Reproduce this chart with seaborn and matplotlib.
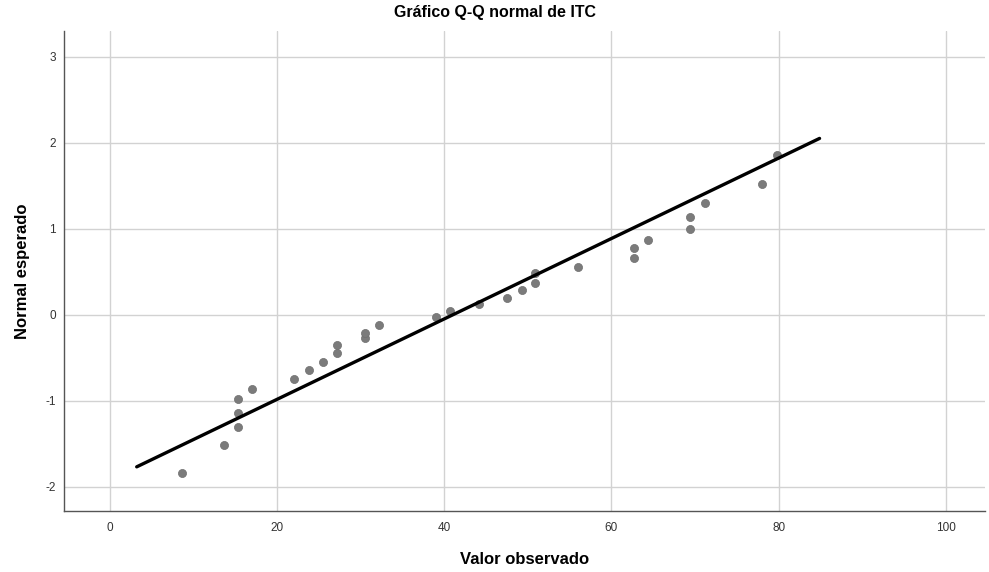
import numpy as np
import pandas as pd
import matplotlib
matplotlib.use("Agg")
import matplotlib.pyplot as plt
import seaborn as sns
from matplotlib import font_manager

# ==============================
# Data
# ==============================

observed = [8.6, 13.6, 15.3, 15.3, 15.3, 17.0, 22.0, 23.8, 25.5, 27.2,
            27.2, 30.5, 30.5, 32.2, 39.0, 40.7, 44.1, 47.5, 49.3, 50.8,
            50.8, 56.0, 62.7, 62.7, 64.4, 69.4, 69.4, 71.2, 78.0, 79.8]
expected = [-1.84, -1.51, -1.30, -1.14, -0.98, -0.86, -0.74, -0.64, -0.55, -0.44,
            -0.35, -0.27, -0.21, -0.12, -0.03, 0.05, 0.13, 0.20, 0.29, 0.37,
            0.49, 0.56, 0.66, 0.78, 0.87, 1.00, 1.14, 1.30, 1.52, 1.86]

# reference line (normal with this mean / sd)
line_mean = 41.0
line_sd = 21.4
line_x = [3.2, 84.9]

x_ticks = [0, 20, 40, 60, 80, 100]
y_ticks = [-2, -1, 0, 1, 2, 3]

title = "Gráfico Q-Q normal de ITC"
x_label = "Valor observado"
y_label = "Normal esperado"

df = pd.DataFrame({"obs": observed, "exp": expected})
line_df = pd.DataFrame({"x": line_x,
                        "y": [(v - line_mean) / line_sd for v in line_x]})

# ==============================
# Style
# ==============================

sns.set_theme(style="whitegrid")
names = {f.name for f in font_manager.fontManager.ttflist}
narrow = "Liberation Sans Narrow" if "Liberation Sans Narrow" in names else "Liberation Sans"
plt.rcParams["font.family"] = ["Liberation Sans", "DejaVu Sans"]

fig = plt.figure(figsize=(9.89, 5.72), dpi=100)
ax = fig.add_axes([0.0647, 0.1066, 0.9313, 0.8392])

sns.scatterplot(data=df, x="obs", y="exp", ax=ax, s=34, color="#7b7b7b",
                edgecolor="#6f6f6f", linewidth=0.5, zorder=3)
sns.lineplot(data=line_df, x="x", y="y", ax=ax, color="black", linewidth=2.4,
             zorder=4)

ax.set_xlim(-5.5, 104.7)
ax.set_ylim(-2.28, 3.30)
ax.set_xticks(x_ticks)
ax.set_yticks(y_ticks)
ax.set_xticklabels([str(t) for t in x_ticks], fontsize=8.5, color="#333333",
                   family=[narrow, "DejaVu Sans"])
ax.set_yticklabels([str(t) for t in y_ticks], fontsize=8.5, color="#333333",
                   family=[narrow, "DejaVu Sans"])
ax.tick_params(axis="x", length=0, pad=8)
ax.tick_params(axis="y", length=0, pad=6)

ax.grid(True, color="#d2d2d2", linewidth=1.0)
ax.set_facecolor("white")
for side in ["top", "right"]:
    ax.spines[side].set_visible(False)
for side in ["left", "bottom"]:
    ax.spines[side].set_color("#555555")
    ax.spines[side].set_linewidth(1.0)

ax.set_xlabel(x_label, fontsize=12, fontweight="bold", labelpad=13, color="black")
ax.set_ylabel(y_label, fontsize=12, fontweight="bold", labelpad=11, color="black")
fig.suptitle(title, x=0.5, y=0.992, fontsize=11.5, fontweight="bold",
             color="black", family=[narrow, "DejaVu Sans"])

fig.savefig("out.png", dpi=100)
